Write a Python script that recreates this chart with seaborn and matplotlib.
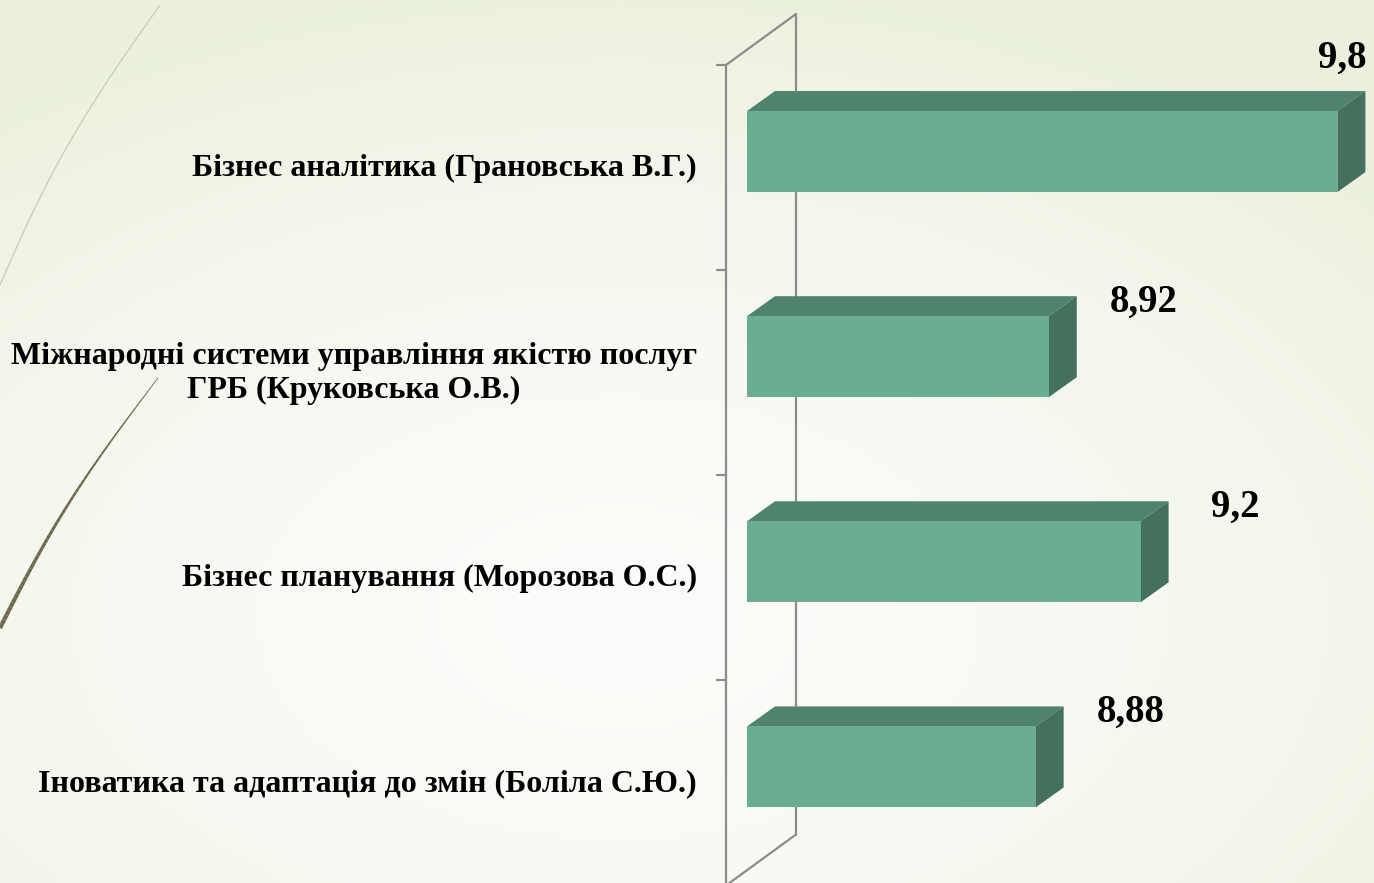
import matplotlib
matplotlib.use('Agg')
import matplotlib.pyplot as plt
import numpy as np
import pandas as pd
import seaborn as sns
from matplotlib.collections import LineCollection
from matplotlib.patches import Polygon
from matplotlib.transforms import IdentityTransform

courses = ['Бізнес аналітика (Грановська В.Г.)',
           'Міжнародні системи управління якістю послуг\nГРБ (Круковська О.В.)',
           'Бізнес планування (Морозова О.С.)',
           'Іноватика та адаптація до змін (Боліла С.Ю.)']
scores = [9.8, 8.92, 9.2, 8.88]
score_labels = ['9,8', '8,92', '9,2', '8,88']

df = pd.DataFrame({'course': courses, 'score': scores})

sns.set_theme(style='white')
plt.rcParams['font.family'] = ['Liberation Serif', 'DejaVu Serif']

W, H = 1374, 883
XMIN = 8
fig = plt.figure(figsize=(W / 100, H / 100), dpi=100)

# background gradient
bg = fig.add_axes([0, 0, 1, 1], zorder=-5)
yy, xx = np.mgrid[0:1:200j, 0:1:300j]
d = np.sqrt(((xx - 0.45) / 1.0) ** 2 + ((yy - 0.7) / 0.95) ** 2)
t = np.clip(d / 0.8, 0, 1) ** 1.6
c0 = np.array([252, 252, 250]) / 255
c1 = np.array([234, 240, 220]) / 255
img = c0[None, None, :] * (1 - t[..., None]) + c1[None, None, :] * t[..., None]
bg.imshow(img, aspect='auto', extent=[0, 1, 0, 1], origin='upper')
bg.set_axis_off()

# decorative curves
s = np.linspace(0, 1, 60)
lx = 160 * (1 - s) - 12 * np.sin(np.pi * s)
ly = 5 + 280 * s
bg.plot(lx / W, 1 - ly / H, color='#cdd0b9', lw=1.0)
dx_ = 158 * (1 - s) - 10 * np.sin(np.pi * s)
dy_ = 378 + 250 * s
pts = np.column_stack([dx_ / W, 1 - dy_ / H])
segs = np.stack([pts[:-1], pts[1:]], axis=1)
bg.add_collection(LineCollection(segs, colors='#6f6a4c', linewidths=np.linspace(0.6, 3.2, len(segs))))
bg.set_xlim(0, 1)
bg.set_ylim(0, 1)

# main axes: bar front plane, x from 8 at pixel 747
ax = fig.add_axes([747 / W, (H - 869.5) / H, 656 / W, 820.5 / H])
ax.patch.set_alpha(0)
sns.barplot(data=df, x='score', y='course', orient='h', color='#6aad91',
            saturation=1, width=0.395, linewidth=0, edgecolor='none', ax=ax, zorder=3)
ax.set_xlim(XMIN, 10)
ax.set_ylim(3.5, -0.5)
ax.set_axis_off()

ident = IdentityTransform()


def px(xv, yv, ox=0, oy=0):
    p = ax.transData.transform((xv, yv))
    return p[0] + ox, p[1] + oy


# 3D walls
fx, fy = -21, -16
bx, by = 49, 35
f_top, f_bot = px(XMIN, -0.5, fx, fy), px(XMIN, 3.5, fx, fy)
b_top, b_bot = px(XMIN, -0.5, bx, by), px(XMIN, 3.5, bx, by)
wall = dict(color='#8c8c8c', lw=1.6, transform=ident, clip_on=False)
ax.plot([f_top[0], f_bot[0]], [f_top[1], f_bot[1]], zorder=1, **wall)
ax.plot([b_top[0], b_bot[0]], [b_top[1], b_bot[1]], zorder=1, **wall)
ax.plot([f_top[0], b_top[0]], [f_top[1], b_top[1]], zorder=1, **wall)
ax.plot([f_bot[0], b_bot[0]], [f_bot[1], b_bot[1]], zorder=1, **wall)
for edge in np.arange(-0.5, 4, 1):
    ex, ey = px(XMIN, edge, fx, fy)
    ax.plot([ex - 9, ex], [ey, ey], zorder=1, **wall)

# depth faces of bars
ddx, ddy = 28, 20
for bar, lab in zip(ax.patches, score_labels):
    x1 = bar.get_x() + bar.get_width()
    x0 = max(bar.get_x(), XMIN)
    y0, h = bar.get_y(), bar.get_height()
    tl = px(x0, y0)
    tr = px(x1, y0)
    br = px(x1, y0 + h)
    top = [tl, tr, (tr[0] + ddx, tr[1] + ddy), (tl[0] + ddx, tl[1] + ddy)]
    side = [tr, br, (br[0] + ddx, br[1] + ddy), (tr[0] + ddx, tr[1] + ddy)]
    ax.add_patch(Polygon(top, closed=True, transform=ident, facecolor='#4f836d',
                         edgecolor='none', zorder=2, clip_on=False))
    ax.add_patch(Polygon(side, closed=True, transform=ident, facecolor='#44705d',
                         edgecolor='none', zorder=2, clip_on=False))
    lx_ = tr[0] + 95
    ly_ = tr[1] + 14
    if lx_ + 30 > W:
        lx_ = tr[0] + 5
        ly_ = tr[1] + 53
    ax.text(lx_, ly_, lab, transform=ident, ha='center', va='center',
            fontsize=28, fontweight='bold', color='black', zorder=4)

# category labels
for i, name in enumerate(courses):
    ax.annotate(name, xy=(0, i), xycoords=('axes fraction', 'data'),
                xytext=(-50, -17), textcoords='offset pixels',
                ha='right', va='center', multialignment='center',
                fontsize=23, fontweight='bold', color='black',
                linespacing=1.25, annotation_clip=False)

fig.savefig('out.png', dpi=100)
